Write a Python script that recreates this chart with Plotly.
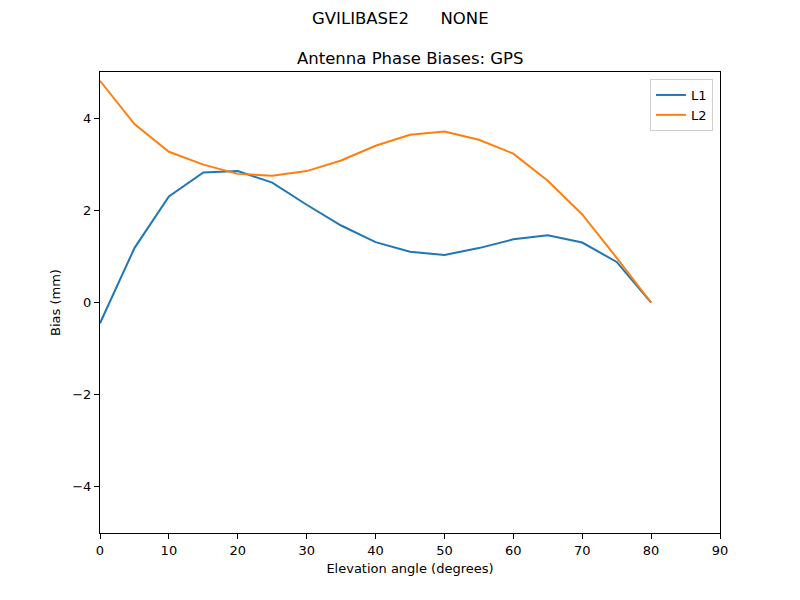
import plotly.graph_objects as go

elev = [0, 5, 10, 15, 20, 25, 30, 35, 40, 45, 50, 55, 60, 65, 70, 75, 80]
l1 = [-0.45, 1.18, 2.30, 2.82, 2.85, 2.60, 2.12, 1.67, 1.31, 1.10, 1.03, 1.18, 1.37, 1.46, 1.30, 0.88, 0.0]
l2 = [4.81, 3.87, 3.27, 2.99, 2.79, 2.75, 2.85, 3.08, 3.40, 3.64, 3.71, 3.53, 3.23, 2.64, 1.91, 0.97, 0.0]

font = "DejaVu Sans"
fig = go.Figure()
fig.add_trace(go.Scatter(x=elev, y=l1, mode="lines", name="L1", line=dict(color="#1f77b4", width=2)))
fig.add_trace(go.Scatter(x=elev, y=l2, mode="lines", name="L2", line=dict(color="#ff7f0e", width=2)))

axis_common = dict(showline=True, linecolor="black", linewidth=1, mirror=True, ticks="outside",
                   ticklen=5, tickcolor="black", showgrid=False, zeroline=False,
                   tickfont=dict(family=font, size=13, color="black"))
top, bottom, left, right = 72, 533, 100, 720
def py(pix):
    return (bottom - pix) / (bottom - top)
def px(pix):
    return (pix - left) / (right - left)

fig.update_layout(
    width=800, height=600,
    margin=dict(l=left, r=800 - right, t=top, b=600 - bottom),
    paper_bgcolor="white", plot_bgcolor="white",
    font=dict(family=font, color="black"),
    xaxis=dict(range=[0, 90], tickvals=list(range(0, 91, 10)),
               title=dict(text="Elevation angle (degrees)", font=dict(family=font, size=13), standoff=7),
               **axis_common),
    yaxis=dict(range=[-5, 5], tickvals=[-4, -2, 0, 2, 4],
               title=dict(text="Bias (mm)", font=dict(family=font, size=13), standoff=8),
               **axis_common),
    legend=dict(x=px(713), y=py(79), xanchor="right", yanchor="top", bgcolor="white",
                bordercolor="#d0d0d0", borderwidth=1, font=dict(family=font, size=13),
                tracegroupgap=0, itemwidth=30),
    showlegend=True,
    annotations=[
        dict(text="GVILIBASE2      NONE", x=px(400), y=py(18), xref="paper", yref="paper",
             xanchor="center", yanchor="middle", showarrow=False, font=dict(family=font, size=16.5)),
        dict(text="Antenna Phase Biases: GPS", x=0.5, y=py(58), xref="paper", yref="paper",
             xanchor="center", yanchor="middle", showarrow=False, font=dict(family=font, size=16.5)),
    ],
)
fig.write_html("out.html")
